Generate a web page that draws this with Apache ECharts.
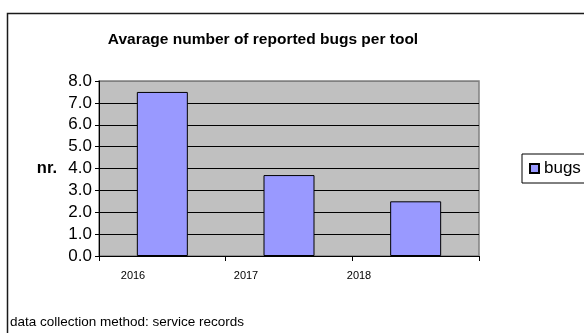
<!DOCTYPE html>
<html>
<head>
<meta charset="utf-8">
<title>Avarage number of reported bugs per tool</title>
<script src="https://cdn.jsdelivr.net/npm/echarts@6/dist/echarts.min.js"></script>
<style>
  html, body { margin: 0; padding: 0; background: #fff; }
  #chart { width: 584px; height: 333px; }
</style>
</head>
<body>
<div id="chart"></div>
<script>
// Bug counts per year
const years = ['2016', '2017', '2018'];
const bugs = [7.5, 3.7, 2.5];
const yTicks = [0, 1, 2, 3, 4, 5, 6, 7, 8];

const FONT = '"Liberation Sans", Arial, sans-serif';

const chart = echarts.init(document.getElementById('chart'), null, { renderer: 'canvas' });

// every split line is black except the top one, which sits on the grey plot border
const splitColors = yTicks.map((v, i) => (i === yTicks.length - 1 ? '#808080' : '#000'));

chart.setOption({
  animation: false,
  backgroundColor: '#fff',
  textStyle: { fontFamily: FONT },
  title: {
    text: 'Avarage number of reported bugs per tool',
    left: 258,
    textAlign: 'center',
    top: 27,
    textStyle: { fontFamily: FONT, fontSize: 15.5, fontWeight: 'bold', color: '#000' }
  },
  legend: {
    data: ['bugs'],
    left: 522,
    top: 154,
    orient: 'vertical',
    padding: [6, 4, 6, 7],
    itemWidth: 9,
    itemHeight: 9,
    icon: 'rect',
    borderColor: '#000',
    borderWidth: 1,
    textStyle: { fontFamily: FONT, fontSize: 17, color: '#000' }
  },
  grid: [
    {
      left: 99, top: 81, width: 380, height: 175,
      containLabel: false,
      outerBoundsMode: 'none',
      show: true,
      backgroundColor: '#C0C0C0',
      borderColor: '#808080',
      borderWidth: 1.5
    },
    {
      left: 76.5, top: 81, width: 339, height: 175,
      containLabel: false,
      outerBoundsMode: 'none',
      show: false
    }
  ],
  xAxis: [
    {
      type: 'category',
      gridIndex: 0,
      data: years,
      axisLine: { show: true, lineStyle: { color: '#000', width: 1 } },
      axisTick: { show: true, length: 5, lineStyle: { color: '#000' } },
      axisLabel: { show: false },
      splitLine: { show: false }
    },
    {
      // year labels
      type: 'category',
      gridIndex: 1,
      data: years,
      axisLine: { show: false },
      axisTick: { show: false },
      axisLabel: { fontFamily: FONT, fontSize: 11, color: '#000', margin: 14 },
      splitLine: { show: false }
    }
  ],
  yAxis: [
    {
      type: 'value',
      gridIndex: 0,
      min: 0,
      max: 8,
      interval: 1,
      name: 'nr.',
      nameLocation: 'middle',
      nameRotate: 0,
      nameGap: 42,
      nameTextStyle: { fontFamily: FONT, fontSize: 16.5, fontWeight: 'bold', color: '#000', align: 'right' },
      axisLine: { show: true, lineStyle: { color: '#000', width: 1 } },
      axisTick: { show: true, length: 4, lineStyle: { color: '#000' } },
      axisLabel: {
        fontFamily: FONT, fontSize: 17, color: '#000', margin: 7,
        formatter: v => v.toFixed(1)
      },
      splitLine: { show: true, lineStyle: { color: splitColors, width: 1 } }
    },
    {
      type: 'value',
      gridIndex: 1,
      show: false
    }
  ],
  series: [
    {
      name: 'bugs',
      type: 'bar',
      xAxisIndex: 0,
      yAxisIndex: 0,
      data: bugs,
      barWidth: 51,
      itemStyle: { color: '#9999FF', borderColor: '#000', borderWidth: 1 }
    }
  ],
  graphic: [
    {
      type: 'rect',
      shape: { x: 7.5, y: 13.5, width: 700, height: 400 },
      style: { fill: 'none', stroke: '#1a1a1a', lineWidth: 1.5 },
      silent: true,
      z: -1
    },
    {
      type: 'text',
      left: 10,
      top: 315,
      style: { text: 'data collection method: service records', fontFamily: FONT, fontSize: 13.5, fill: '#000' }
    }
  ]
});
</script>
</body>
</html>
